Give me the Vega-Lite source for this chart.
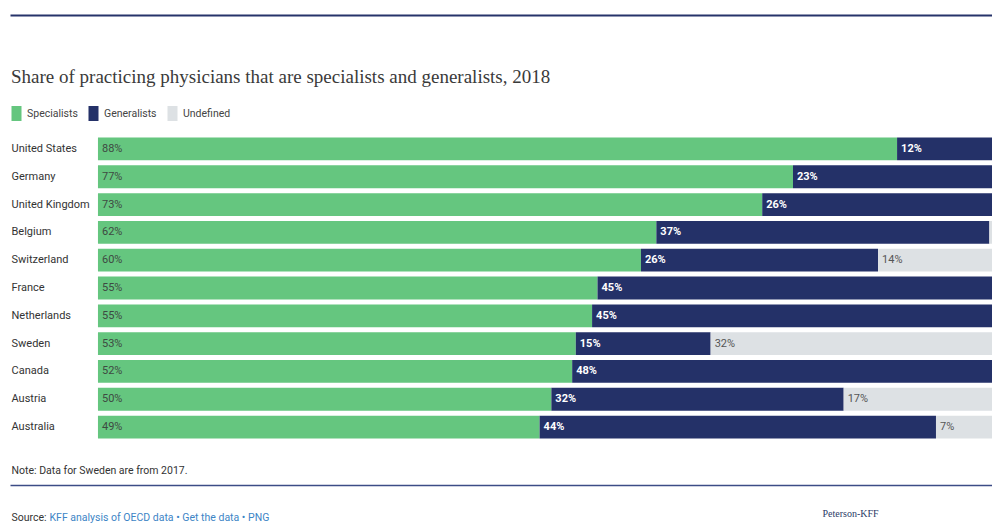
{
  "$schema": "https://vega.github.io/schema/vega-lite/v6.json",
  "autosize": {"type": "none"},
  "padding": {"left": 10, "top": 135, "right": 0, "bottom": 82},
  "width": 982,
  "height": 306,
  "background": "white",
  "title": {
    "text": "Share of practicing physicians that are specialists and generalists, 2018",
    "anchor": "start",
    "frame": "group",
    "orient": "top",
    "offset": -87,
    "dx": 1,
    "baseline": "alphabetic",
    "font": "Liberation Serif",
    "fontSize": 19,
    "fontWeight": "normal",
    "color": "#3a3a3a"
  },
  "data": {
    "values": [
      {"country": "United States", "type": "Specialists", "value": 0.883},
      {"country": "United States", "type": "Generalists", "value": 0.117},
      {"country": "Germany", "type": "Specialists", "value": 0.768},
      {"country": "Germany", "type": "Generalists", "value": 0.232},
      {"country": "United Kingdom", "type": "Specialists", "value": 0.734},
      {"country": "United Kingdom", "type": "Generalists", "value": 0.264},
      {"country": "Belgium", "type": "Specialists", "value": 0.617},
      {"country": "Belgium", "type": "Generalists", "value": 0.368},
      {"country": "Belgium", "type": "Undefined", "value": 0.015},
      {"country": "Switzerland", "type": "Specialists", "value": 0.600},
      {"country": "Switzerland", "type": "Generalists", "value": 0.262},
      {"country": "Switzerland", "type": "Undefined", "value": 0.138},
      {"country": "France", "type": "Specialists", "value": 0.552},
      {"country": "France", "type": "Generalists", "value": 0.448},
      {"country": "Netherlands", "type": "Specialists", "value": 0.546},
      {"country": "Netherlands", "type": "Generalists", "value": 0.454},
      {"country": "Sweden", "type": "Specialists", "value": 0.528},
      {"country": "Sweden", "type": "Generalists", "value": 0.149},
      {"country": "Sweden", "type": "Undefined", "value": 0.323},
      {"country": "Canada", "type": "Specialists", "value": 0.524},
      {"country": "Canada", "type": "Generalists", "value": 0.476},
      {"country": "Austria", "type": "Specialists", "value": 0.501},
      {"country": "Austria", "type": "Generalists", "value": 0.323},
      {"country": "Austria", "type": "Undefined", "value": 0.174},
      {"country": "Australia", "type": "Specialists", "value": 0.488},
      {"country": "Australia", "type": "Generalists", "value": 0.438},
      {"country": "Australia", "type": "Undefined", "value": 0.074}
    ]
  },
  "transform": [
    {"calculate": "indexof(['Specialists','Generalists','Undefined'], datum.type)", "as": "rank"},
    {"stack": "value", "groupby": ["country"], "sort": [{"field": "rank", "order": "ascending"}], "as": ["v0", "v1"]}
  ],
  "resolve": {"axis": {"x": "independent", "y": "independent"}},
  "layer": [
    {
      "mark": {"type": "bar", "clip": true},
      "encoding": {
        "y": {
          "field": "country", "type": "nominal",
          "sort": ["United States", "Germany", "United Kingdom", "Belgium", "Switzerland", "France", "Netherlands", "Sweden", "Canada", "Austria", "Australia"],
          "scale": {"paddingInner": 0.18, "paddingOuter": 0.09},
          "axis": {
            "orient": "left", "ticks": false, "tickSize": 0, "domain": false, "labelPadding": -1,
            "labelAlign": "left", "labelFont": "Roboto", "labelFontSize": 11, "labelColor": "#333333",
            "title": "Peterson-KFF", "titleX": 812, "titleY": 381, "titleAngle": 0, "titleAlign": "left",
            "titleBaseline": "alphabetic", "titleFont": "Liberation Serif", "titleFontSize": 10,
            "titleFontWeight": "normal", "titleColor": "#2b3a67"
          }
        },
        "x": {
          "field": "v0", "type": "quantitative",
          "scale": {"domain": [-0.0972, 0.9879], "nice": false, "zero": false},
          "axis": {
            "orient": "top", "offset": 120, "labels": false, "ticks": false, "grid": false,
            "domainColor": "#26336a", "domainWidth": 2,
            "title": "Source:", "titleX": 1, "titleY": 505, "titleAngle": 0, "titleAlign": "left",
            "titleBaseline": "alphabetic", "titleFont": "Roboto", "titleFontSize": 10.5,
            "titleFontWeight": "normal", "titleColor": "#333333"
          }
        },
        "x2": {"field": "v1"},
        "color": {
          "field": "type", "type": "nominal",
          "scale": {"domain": ["Specialists", "Generalists", "Undefined"], "range": ["#65c67f", "#243168", "#dde1e4"]},
          "legend": {
            "title": null, "orient": "none", "direction": "horizontal", "legendX": -1, "legendY": -29,
            "symbolType": "M-0.667,-1H0.667V1H-0.667Z", "symbolSize": 225, "symbolStrokeWidth": 0,
            "labelFont": "Roboto", "labelFontSize": 10.5, "labelColor": "#444444", "labelOffset": 3,
            "columnPadding": 8
          }
        }
      }
    },
    {
      "transform": [{"filter": "datum.type === 'Specialists'"}],
      "mark": {"type": "text", "align": "left", "baseline": "middle", "dx": 4, "font": "Roboto", "fontSize": 11, "color": "#3e4a42"},
      "encoding": {
        "y": {
          "field": "country", "type": "nominal",
          "sort": ["United States", "Germany", "United Kingdom", "Belgium", "Switzerland", "France", "Netherlands", "Sweden", "Canada", "Austria", "Australia"],
          "axis": {
            "orient": "right", "labels": false, "ticks": false, "domain": false,
            "title": "KFF analysis of OECD data • Get the data • PNG", "titleX": -943, "titleY": 385, "titleAngle": 0,
            "titleAlign": "left", "titleBaseline": "alphabetic", "titleFont": "Roboto", "titleFontSize": 10.5,
            "titleFontWeight": "normal", "titleColor": "#3d85c6"
          }
        },
        "x": {
          "field": "v0", "type": "quantitative",
          "axis": {
            "orient": "bottom", "offset": 44, "labels": false, "ticks": false, "grid": false,
            "domainColor": "#3c4c86", "domainWidth": 1.5,
            "title": "Note: Data for Sweden are from 2017.", "titleX": 1, "titleY": -12, "titleAngle": 0,
            "titleAlign": "left", "titleBaseline": "alphabetic", "titleFont": "Roboto", "titleFontSize": 10.5,
            "titleFontWeight": "normal", "titleColor": "#333333"
          }
        },
        "text": {"field": "value", "type": "quantitative", "format": ".0%"}
      }
    },
    {
      "transform": [{"filter": "datum.type === 'Generalists'"}],
      "mark": {"type": "text", "align": "left", "baseline": "middle", "dx": 4, "font": "Roboto", "fontSize": 11, "fontWeight": "bold", "color": "#ffffff"},
      "encoding": {
        "y": {
          "field": "country", "type": "nominal",
          "sort": ["United States", "Germany", "United Kingdom", "Belgium", "Switzerland", "France", "Netherlands", "Sweden", "Canada", "Austria", "Australia"],
          "axis": null
        },
        "x": {"field": "v0", "type": "quantitative", "axis": null},
        "text": {"field": "value", "type": "quantitative", "format": ".0%"}
      }
    },
    {
      "transform": [{"filter": "datum.type === 'Undefined' && datum.value >= 0.03"}],
      "mark": {"type": "text", "align": "left", "baseline": "middle", "dx": 4, "font": "Roboto", "fontSize": 11, "color": "#555555"},
      "encoding": {
        "y": {
          "field": "country", "type": "nominal",
          "sort": ["United States", "Germany", "United Kingdom", "Belgium", "Switzerland", "France", "Netherlands", "Sweden", "Canada", "Austria", "Australia"],
          "axis": null
        },
        "x": {"field": "v0", "type": "quantitative", "axis": null},
        "text": {"field": "value", "type": "quantitative", "format": ".0%"}
      }
    }
  ],
  "config": {"view": {"stroke": null}}
}
